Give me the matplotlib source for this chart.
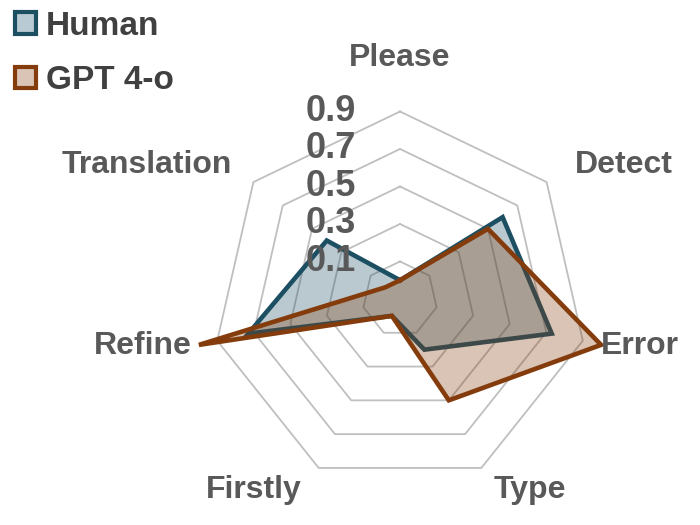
import numpy as np
import matplotlib
matplotlib.use("Agg")
import matplotlib.pyplot as plt
from matplotlib.patches import Patch

categories = ['Please', 'Detect', 'Error', 'Type', 'Firstly', 'Refine', 'Translation']
human = [0.0, 0.6, 0.73, 0.2, 0.0, 0.73, 0.4]
gpt4o = [0.0, 0.5, 1.0, 0.5, 0.0, 1.0, 0.0]
series_names = ['Human', 'GPT 4-o']
ring_ticks = [0.1, 0.3, 0.5, 0.7, 0.9]
tick_labels = ['0.1', '0.3', '0.5', '0.7', '0.9']

HUMAN_C = '#1D4F63'
GPT_C = '#843C0C'
LABEL_C = '#595959'
GRID_C = '#BFBFBF'

plt.rcParams['font.family'] = ['Liberation Sans', 'DejaVu Sans']
plt.rcParams['font.weight'] = 'bold'

n = len(categories)
theta = np.arange(n) * 2 * np.pi / n
theta_c = np.append(theta, theta[0])

fig = plt.figure(figsize=(7, 5.25), dpi=100)
ax = fig.add_axes([0.2634, 0.0198, 0.6161, 0.8214], projection='polar')
ax.set_theta_zero_location('N')
ax.set_theta_direction(-1)
ax.set_ylim(-0.1, 1.05)
ax.axis('off')

# heptagon rings
for v in ring_ticks:
    ax.plot(theta_c, [v] * (n + 1), color=GRID_C, lw=1.3, zorder=1)

# series
for vals, col in [(human, HUMAN_C), (gpt4o, GPT_C)]:
    vc = np.append(vals, vals[0])
    ax.fill(theta_c, vc, color=col, alpha=0.3, lw=0, zorder=2)
    ax.plot(theta_c, vc, color=col, lw=3.3, zorder=2, solid_joinstyle='miter',
            clip_on=False)

# radial tick labels
for v, t in zip(ring_ticks, tick_labels):
    ax.annotate(t, xy=(0, v), xytext=(-44, 0), textcoords='offset pixels',
                ha='right', va='center', fontsize=26, color=LABEL_C,
                annotation_clip=False, zorder=5)

# category labels
label_place = [((0, 53), 'center'), ((28, 17), 'left'), ((18, -5), 'left'),
               ((12, -22), 'left'), ((-17, -22), 'right'), ((-25, -5), 'right'),
               ((-21, 17), 'right')]
for th, name, (off, ha) in zip(theta, categories, label_place):
    ax.annotate(name, xy=(th, 0.9), xytext=off, textcoords='offset pixels',
                ha=ha, va='center', fontsize=23, color=LABEL_C,
                annotation_clip=False)

handles = [Patch(facecolor='#B8CAD3', edgecolor=HUMAN_C, lw=3),
           Patch(facecolor='#DAC4B6', edgecolor=GPT_C, lw=3)]
leg = fig.legend(handles, series_names, loc='upper left',
                 bbox_to_anchor=(0.003, 1.005), frameon=False, fontsize=24,
                 handlelength=0.62, handleheight=0.62, handletextpad=0.3,
                 labelspacing=0.7, borderaxespad=0)
for txt in leg.get_texts():
    txt.set_color('#404040')

fig.savefig('out.png', dpi=100)
